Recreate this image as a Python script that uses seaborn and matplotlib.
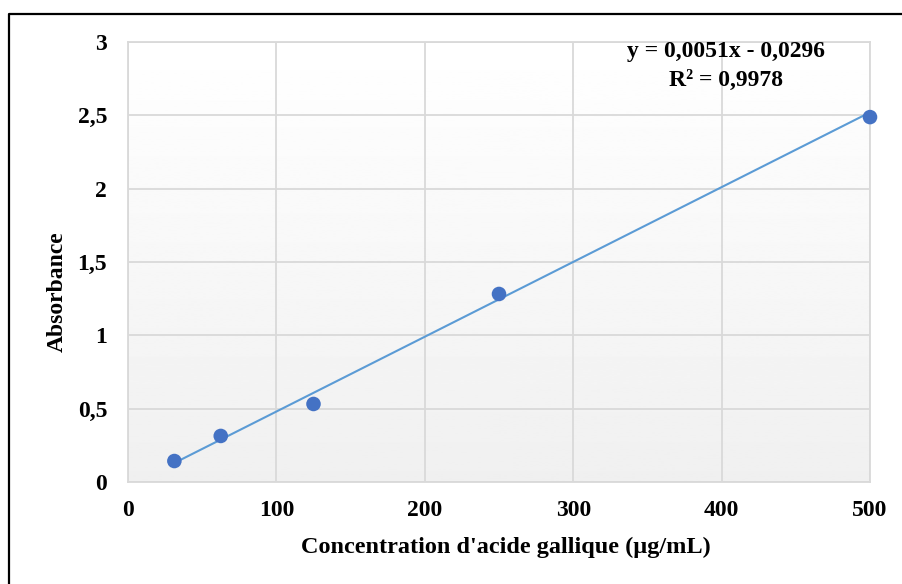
import numpy as np
import pandas as pd
import matplotlib
matplotlib.use("Agg")
import matplotlib.pyplot as plt
from matplotlib.lines import Line2D
import seaborn as sns

# Gallic acid calibration standards
concentration = [31.25, 62.5, 125, 250, 500]          # µg/mL
absorbance = [0.143, 0.314, 0.532, 1.282, 2.488]

# Linear trendline coefficients
slope = 0.0051
intercept = -0.0296
r_squared = 0.9978

x_ticks = [0, 100, 200, 300, 400, 500]
y_ticks = [0, 0.5, 1, 1.5, 2, 2.5, 3]

sns.set_theme(style="white")
plt.rcParams["font.family"] = ["Liberation Serif", "DejaVu Serif"]
plt.rcParams["font.weight"] = "bold"
plt.rcParams["text.color"] = "black"
plt.rcParams["xtick.color"] = "black"
plt.rcParams["ytick.color"] = "black"

fig = plt.figure(figsize=(9.03, 5.84), dpi=100)
ax = fig.add_axes([128 / 903, 1 - 482 / 584, 742 / 903, 440 / 584])

# soft vertical gradient in the plotting area
grad = np.linspace(1.0, 0.94, 256).reshape(-1, 1)
ax.imshow(grad, extent=[0, 1, 0, 1], transform=ax.transAxes, cmap="gray",
          vmin=0, vmax=1, aspect="auto", zorder=0)

df = pd.DataFrame({"x": concentration, "y": absorbance})
trend_x = np.array([concentration[0], concentration[-1]])
trend = pd.DataFrame({"x": trend_x, "y": slope * trend_x + intercept})

sns.lineplot(data=trend, x="x", y="y", ax=ax, color="#5B9BD5", lw=1.5, zorder=3)
sns.scatterplot(data=df, x="x", y="y", ax=ax, color="#4472C4", s=110,
                edgecolor="none", zorder=4, clip_on=False)

ax.set_xlim(0, 500)
ax.set_ylim(0, 3)
ax.set_xticks(x_ticks)
ax.set_yticks(y_ticks)
ax.set_xticklabels([str(v) for v in x_ticks])
ax.set_yticklabels([("%g" % v).replace(".", ",") for v in y_ticks])
ax.tick_params(axis="x", length=0, labelsize=17, pad=13)
ax.tick_params(axis="y", length=0, labelsize=17, pad=15)
for lab in ax.get_xticklabels() + ax.get_yticklabels():
    lab.set_fontweight("bold")
    lab.set_color("black")

ax.grid(True, color="#d9d9d9", lw=1.3, zorder=1)
ax.set_axisbelow(True)
for sp in ax.spines.values():
    sp.set_color("#d9d9d9")
    sp.set_linewidth(1.3)
ax.set_xlabel("")
ax.set_ylabel("")

fig.text(506 / 903, 1 - 547 / 584, "Concentration d'acide gallique (µg/mL)",
         ha="center", va="center", fontsize=17.5, fontweight="bold", color="black")
fig.text(57 / 903, 1 - 292 / 584, "Absorbance", rotation=90,
         ha="center", va="center", fontsize=17, fontweight="bold", color="black")

eq = "y = {}x - {}".format(("%.4f" % slope).replace(".", ","),
                           ("%.4f" % abs(intercept)).replace(".", ","))
r2 = "R² = {}".format(("%.4f" % r_squared).replace(".", ","))
ax.text(726 / 903, 1 - 52 / 584, eq, transform=fig.transFigure,
        ha="center", va="center", fontsize=17, fontweight="bold", color="black", zorder=5)
ax.text(726 / 903, 1 - 80 / 584, r2, transform=fig.transFigure,
        ha="center", va="center", fontsize=17, fontweight="bold", color="black", zorder=5)

# outer frame (top and left edges)
fig.add_artist(Line2D([9.5 / 903, 9.5 / 903, 1.0], [0.0, 1 - 13.5 / 584, 1 - 13.5 / 584],
                      transform=fig.transFigure, color="black", lw=1.6))

fig.savefig("out.png", dpi=100)
